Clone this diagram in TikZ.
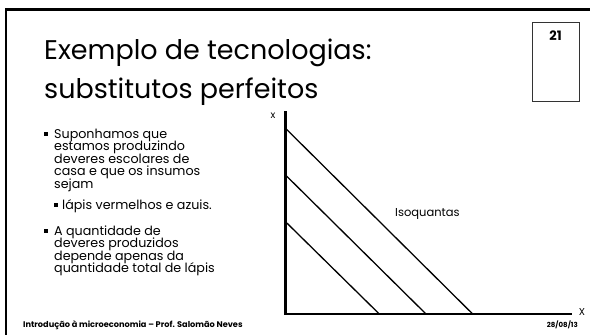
\documentclass[tikz,border=0pt]{standalone}
\usepackage{fontspec}
\setmainfont{Poppins}
\begin{document}
\begin{tikzpicture}[x=1pt,y=-1pt,
  frame/.style={line width=2.5pt, line cap=rect},
  axis/.style={line width=2.2pt},
  iso/.style={line width=1.3pt},
  bodytext/.style={anchor=base west, inner sep=0pt,
    font=\fontsize{12.7}{12.7}\selectfont},
  titletext/.style={anchor=base west, inner sep=0pt,
    font=\fontsize{27}{27}\selectfont},
  bul/.style={fill=black, minimum size=4pt, inner sep=0pt, draw=none}]
\useasboundingbox (0,0) rectangle (590,335);
% frame
\coordinate (fb) at (6,335);
\coordinate (fc) at (6,9.5);
\coordinate (fr) at (590,9.5);
\draw[frame] (fb) -- (fc) -- (fr);
% slide number box
\node[draw=black!80, line width=0.8pt, minimum width=47pt, minimum height=79pt, inner sep=0pt] (box) at (555.5,61.5) {};
\node[font=\fontsize{13}{13}\selectfont\bfseries, inner sep=0pt] (num) at (555.5,35.5) {21};
% title
\node[titletext] (t1) at (44,59) {Exemplo de tecnologias:};
\node[titletext] (t2) at (44,98) {substitutos perfeitos};
% bullet 1
\node[bul] (b1) at (46,134) {};
\node[bodytext] (l1) at (54,138) {Suponhamos que};
\node[bodytext] (l2) at (54,150.5) {estamos produzindo};
\node[bodytext] (l3) at (54,163) {deveres escolares de};
\node[bodytext] (l4) at (54,175.5) {casa e que os insumos};
\node[bodytext] (l5) at (54,188) {sejam};
% sub bullet
\node[bul] (b2) at (56,205) {};
\node[bodytext] (l6) at (62,209) {lápis vermelhos e azuis.};
% bullet 2
\node[bul] (b3) at (46,231) {};
\node[bodytext] (l7) at (54,235) {A quantidade de};
\node[bodytext] (l8) at (54,247.5) {deveres produzidos};
\node[bodytext] (l9) at (54,260) {depende apenas da};
\node[bodytext] (l10) at (54,272.5) {quantidade total de lápis};
% graph
\coordinate (O) at (285.5,314);
\coordinate (ytop) at (285.5,111);
\coordinate (xend) at (572,314);
\draw[axis] (ytop) -- (O) -- (xend);
\coordinate (a1) at (285.5,128.3);
\coordinate (a2) at (285.5,175);
\coordinate (a3) at (285.5,221.7);
\coordinate (e1) at (472.7,314);
\coordinate (e2) at (426,314);
\coordinate (e3) at (379.3,314);
\draw[iso] (a1) -- (e1);
\draw[iso] (a2) -- (e2);
\draw[iso] (a3) -- (e3);
\node[anchor=west, inner sep=0pt, font=\fontsize{11.5}{12}\selectfont] (lab) at (395,214) {Isoquantas};
\node[inner sep=0pt, font=\fontsize{10}{10}\selectfont] (ly) at (273,116) {x};
\node[inner sep=0pt, font=\fontsize{10}{10}\selectfont] (lx) at (582,312) {X};
% footer
\node[anchor=west, inner sep=0pt, font=\fontsize{8.2}{8.2}\selectfont\bfseries] (foot) at (23,325) {Introdução à microeconomia – Prof. Salomão Neves};
\node[anchor=east, inner sep=0pt, font=\fontsize{7}{7}\selectfont\bfseries] (date) at (578,325) {28/08/13};
\end{tikzpicture}
\end{document}
